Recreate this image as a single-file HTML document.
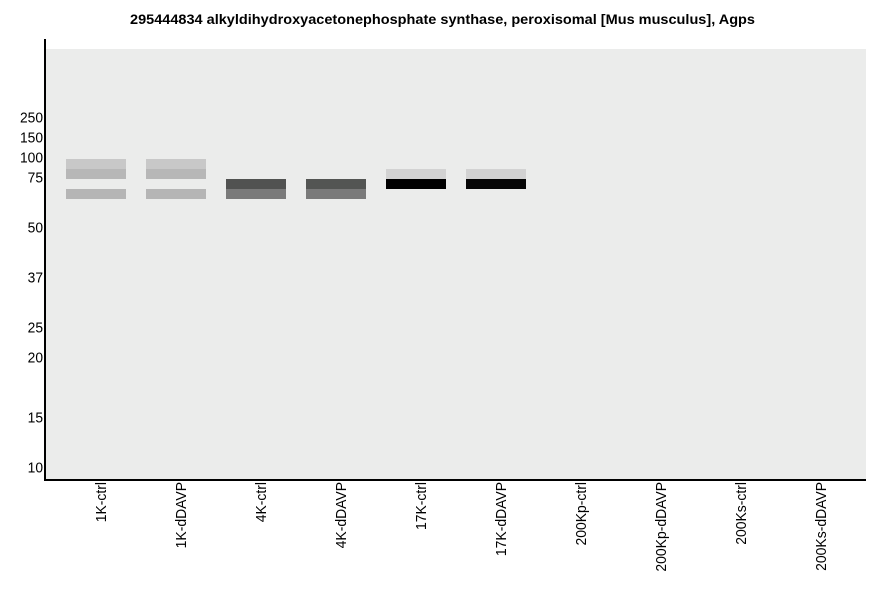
<!DOCTYPE html>
<html>
<head>
<meta charset="utf-8">
<style>
  html, body { margin: 0; padding: 0; background: #ffffff; }
  body { width: 886px; height: 595px; overflow: hidden; }
  svg { display: block; }
  text { font-family: "Liberation Sans", Arial, sans-serif; fill: #000; }
</style>
</head>
<body>
<svg width="886" height="595" viewBox="0 0 886 595" xmlns="http://www.w3.org/2000/svg">
  <rect x="0" y="0" width="886" height="595" fill="#ffffff"/>
  <!-- title -->
  <text x="130" y="24" font-size="13.5" font-weight="bold" textLength="625" lengthAdjust="spacingAndGlyphs">295444834 alkyldihydroxyacetonephosphate synthase, peroxisomal [Mus musculus], Agps</text>

  <!-- plot area -->
  <rect x="46" y="49" width="820" height="430" fill="#ebeceb"/>

  <!-- bands lane 1 -->
  <rect x="66" y="159" width="60" height="10" fill="#c8c8c8"/>
  <rect x="66" y="169" width="60" height="10" fill="#b7b7b7"/>
  <rect x="66" y="189" width="60" height="10" fill="#b5b5b5"/>
  <!-- lane 2 -->
  <rect x="146" y="159" width="60" height="10" fill="#c8c8c8"/>
  <rect x="146" y="169" width="60" height="10" fill="#b7b7b7"/>
  <rect x="146" y="189" width="60" height="10" fill="#b5b5b5"/>
  <!-- lane 3 -->
  <rect x="226" y="179" width="60" height="10" fill="#515251"/>
  <rect x="226" y="189" width="60" height="10" fill="#7a7a7a"/>
  <!-- lane 4 -->
  <rect x="306" y="179" width="60" height="10" fill="#535553"/>
  <rect x="306" y="189" width="60" height="10" fill="#7a7a7a"/>
  <!-- lane 5 -->
  <rect x="386" y="169" width="60" height="10" fill="#d2d2d2"/>
  <rect x="386" y="179" width="60" height="10" fill="#000000"/>
  <!-- lane 6 -->
  <rect x="466" y="169" width="60" height="10" fill="#d2d2d2"/>
  <rect x="466" y="179" width="60" height="10" fill="#060606"/>

  <!-- axes -->
  <rect x="44" y="39" width="2" height="442" fill="#000"/>
  <rect x="44" y="479" width="822" height="2" fill="#000"/>

  <!-- y tick labels -->
  <g font-size="15" text-anchor="end" fill="#222">
    <text transform="translate(43,122.5) scale(0.92,1)">250</text>
    <text transform="translate(43,142.5) scale(0.92,1)">150</text>
    <text transform="translate(43,162.5) scale(0.92,1)">100</text>
    <text transform="translate(43,182.5) scale(0.92,1)">75</text>
    <text transform="translate(43,232.5) scale(0.92,1)">50</text>
    <text transform="translate(43,282.5) scale(0.92,1)">37</text>
    <text transform="translate(43,332.5) scale(0.92,1)">25</text>
    <text transform="translate(43,362.5) scale(0.92,1)">20</text>
    <text transform="translate(43,422.5) scale(0.92,1)">15</text>
    <text transform="translate(43,472.5) scale(0.92,1)">10</text>
  </g>

  <!-- x labels -->
  <g font-size="15" text-anchor="end">
    <text transform="translate(106,482) rotate(-90) scale(0.93,1)">1K-ctrl</text>
    <text transform="translate(186,482) rotate(-90) scale(0.93,1)">1K-dDAVP</text>
    <text transform="translate(266,482) rotate(-90) scale(0.93,1)">4K-ctrl</text>
    <text transform="translate(346,482) rotate(-90) scale(0.93,1)">4K-dDAVP</text>
    <text transform="translate(426,482) rotate(-90) scale(0.93,1)">17K-ctrl</text>
    <text transform="translate(506,482) rotate(-90) scale(0.93,1)">17K-dDAVP</text>
    <text transform="translate(586,482) rotate(-90) scale(0.93,1)">200Kp-ctrl</text>
    <text transform="translate(666,482) rotate(-90) scale(0.93,1)">200Kp-dDAVP</text>
    <text transform="translate(746,482) rotate(-90) scale(0.93,1)">200Ks-ctrl</text>
    <text transform="translate(826,482) rotate(-90) scale(0.93,1)">200Ks-dDAVP</text>
  </g>
</svg>
</body>
</html>
